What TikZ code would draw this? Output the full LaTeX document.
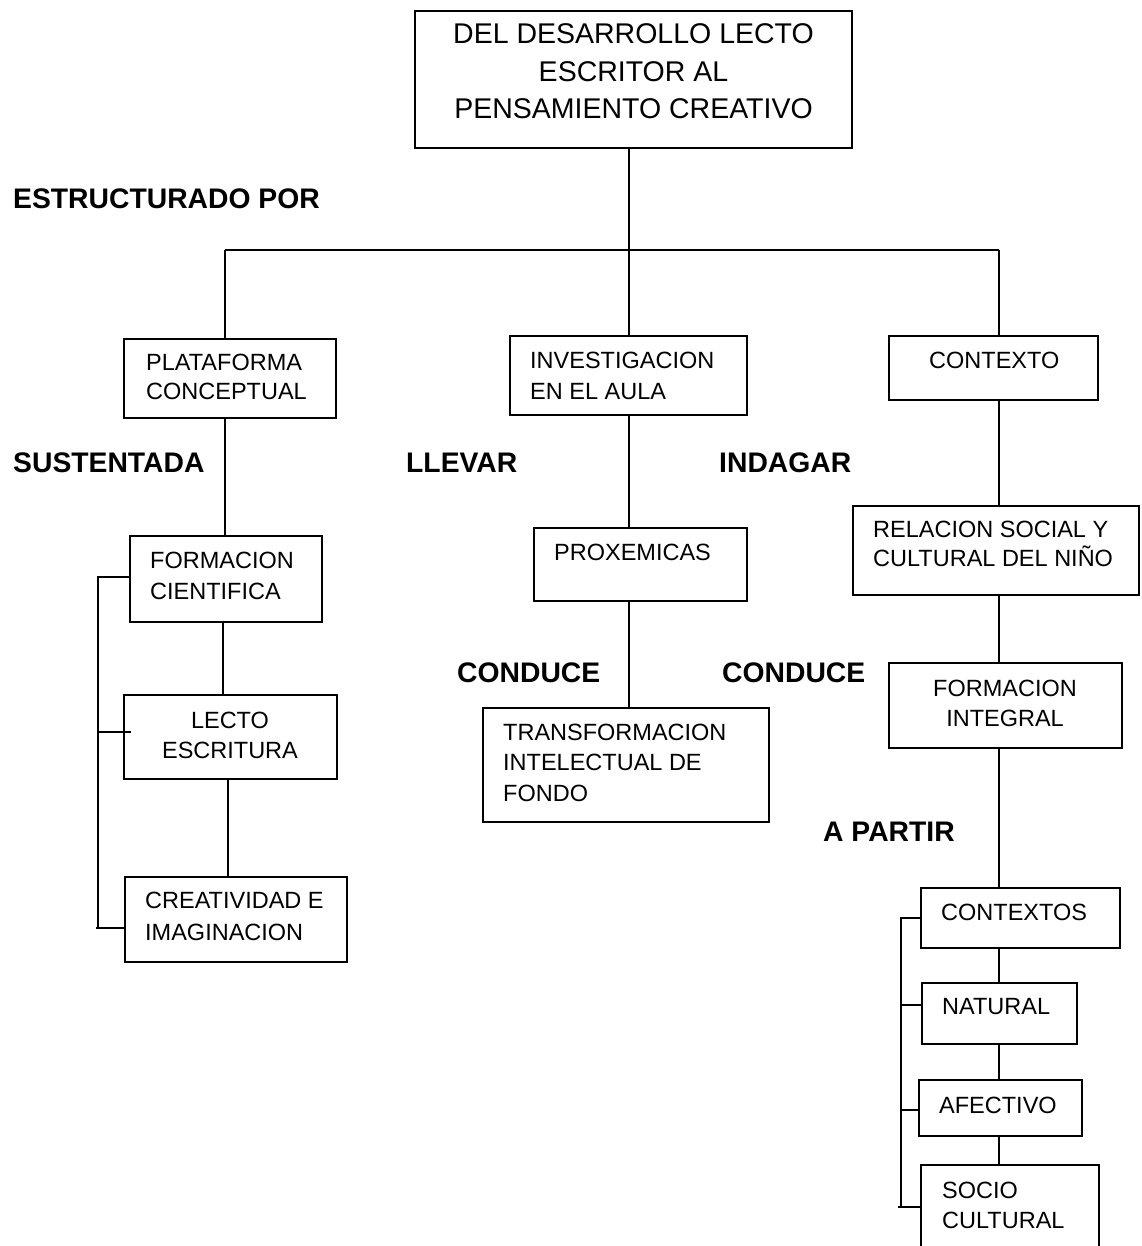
\documentclass[tikz,border=0pt]{standalone}
\usepackage{fontspec}
\setmainfont{Liberation Sans}
\begin{document}
\begin{tikzpicture}[x=1pt,y=-1pt,
  box/.style={draw, line width=1.7pt, anchor=north west, inner sep=0pt, outer sep=0pt},
  ln/.style={line width=1.7pt},
  txt/.style={font=\fontsize{23.5}{30}\selectfont, inner sep=0pt, align=left, anchor=west},
  ttl/.style={font=\fontsize{28.5}{37.5}\selectfont, inner sep=0pt, align=center},
  lbl/.style={font=\bfseries\fontsize{28.3}{30}\selectfont, inner sep=0pt, anchor=west}]
\useasboundingbox (0,0) rectangle (1141,1246);
% boxes
\node[box, minimum width=437pt, minimum height=137pt] (top) at (415,11) {};
\node[ttl] (ttop) at (633.5,71.5) {DEL DESARROLLO LECTO\\ESCRITOR AL\\PENSAMIENTO CREATIVO};
\node[box, minimum width=212pt, minimum height=79pt] (plat) at (124,339) {};
\node[txt, font=\fontsize{23.5}{29.5}\selectfont] (tplat) at (146,377) {PLATAFORMA\\CONCEPTUAL};
\node[box, minimum width=237pt, minimum height=79pt] (inv) at (510,336) {};
\node[txt, font=\fontsize{23.5}{31}\selectfont] (tinv) at (530,375.5) {INVESTIGACION\\EN EL AULA};
\node[box, minimum width=209pt, minimum height=64pt] (ctx) at (889,336) {};
\node[txt] (tctx) at (929,360) {CONTEXTO};
\node[box, minimum width=192pt, minimum height=86pt] (fc) at (130,536) {};
\node[txt, font=\fontsize{23.5}{31}\selectfont] (tfc) at (150,576) {FORMACION\\CIENTIFICA};
\node[box, minimum width=213pt, minimum height=84pt] (le) at (124,695) {};
\node[txt, align=center, anchor=center] (tle) at (230,735) {LECTO\\ESCRITURA};
\node[box, minimum width=222pt, minimum height=85pt] (cr) at (125,877) {};
\node[txt, font=\fontsize{23.5}{32}\selectfont] (tcr) at (145,916) {CREATIVIDAD E\\IMAGINACION};
\node[box, minimum width=213pt, minimum height=73pt] (prox) at (534,528) {};
\node[txt] (tprox) at (554,552) {PROXEMICAS};
\node[box, minimum width=286pt, minimum height=114pt] (tra) at (483,708) {};
\node[txt, font=\fontsize{23.5}{30.5}\selectfont] (ttra) at (503,762.5) {TRANSFORMACION\\INTELECTUAL DE\\FONDO};
\node[box, minimum width=286pt, minimum height=89pt] (rel) at (853,506) {};
\node[txt, font=\fontsize{23.5}{28.5}\selectfont] (trel) at (873,544) {RELACION SOCIAL Y\\CULTURAL DEL NIÑO};
\node[box, minimum width=233pt, minimum height=85pt] (fi) at (889,663) {};
\node[txt, align=center, anchor=center] (tfi) at (1005,703) {FORMACION\\INTEGRAL};
\node[box, minimum width=199pt, minimum height=60pt] (cxs) at (921,888) {};
\node[txt] (tcxs) at (941,912) {CONTEXTOS};
\node[box, minimum width=155pt, minimum height=61pt] (nat) at (922,983) {};
\node[txt] (tnat) at (942,1007) {NATURAL};
\node[box, minimum width=163pt, minimum height=56pt] (afe) at (919,1080) {};
\node[txt] (tafe) at (939,1105) {AFECTIVO};
\node[box, minimum width=178pt, minimum height=95pt] (soc) at (921,1165) {};
\node[txt] (tsoc) at (942,1205) {SOCIO\\CULTURAL};
% labels
\node[lbl] (l1) at (13,199) {ESTRUCTURADO POR};
\node[lbl] (l2) at (13,463) {SUSTENTADA};
\node[lbl] (l3) at (406,463) {LLEVAR};
\node[lbl] (l4) at (719,463) {INDAGAR};
\node[lbl] (l5) at (457,673) {CONDUCE};
\node[lbl] (l6) at (722,673) {CONDUCE};
\node[lbl] (l7) at (823,832) {A PARTIR};
% connectors
\coordinate (jl) at (225,250);
\coordinate (jm) at (629,250);
\coordinate (jr) at (999,250);
\draw[ln] (top.south -| jm) -- (jm);
\draw[ln] (jl) -- (jr);
\draw[ln] (jl) -- (jl |- plat.north);
\draw[ln] (jm) -- (jm |- inv.north);
\draw[ln] (jr) -- (jr |- ctx.north);
\draw[ln] (225,418) -- (225,536);
\draw[ln] (223,622) -- (223,695);
\draw[ln] (228,779) -- (228,877);
\draw[ln] (629,415) -- (629,528);
\draw[ln] (629,601) -- (629,708);
\draw[ln] (999,400) -- (999,506);
\draw[ln] (999,595) -- (999,663);
\draw[ln] (999,748) -- (999,888);
\draw[ln] (999,948) -- (999,983);
\draw[ln] (999,1044) -- (999,1080);
\draw[ln] (999,1136) -- (999,1165);
% left bracket
\draw[ln] (130,577) -- (98,577) -- (98,928);
\draw[ln] (98,732) -- (131,732);
\draw[ln] (96,928) -- (125,928);
% right bracket
\draw[ln] (921,918) -- (901,918) -- (901,1207);
\draw[ln] (901,1005) -- (922,1005);
\draw[ln] (901,1110) -- (919,1110);
\draw[ln] (898,1207) -- (921,1207);
\end{tikzpicture}
\end{document}
